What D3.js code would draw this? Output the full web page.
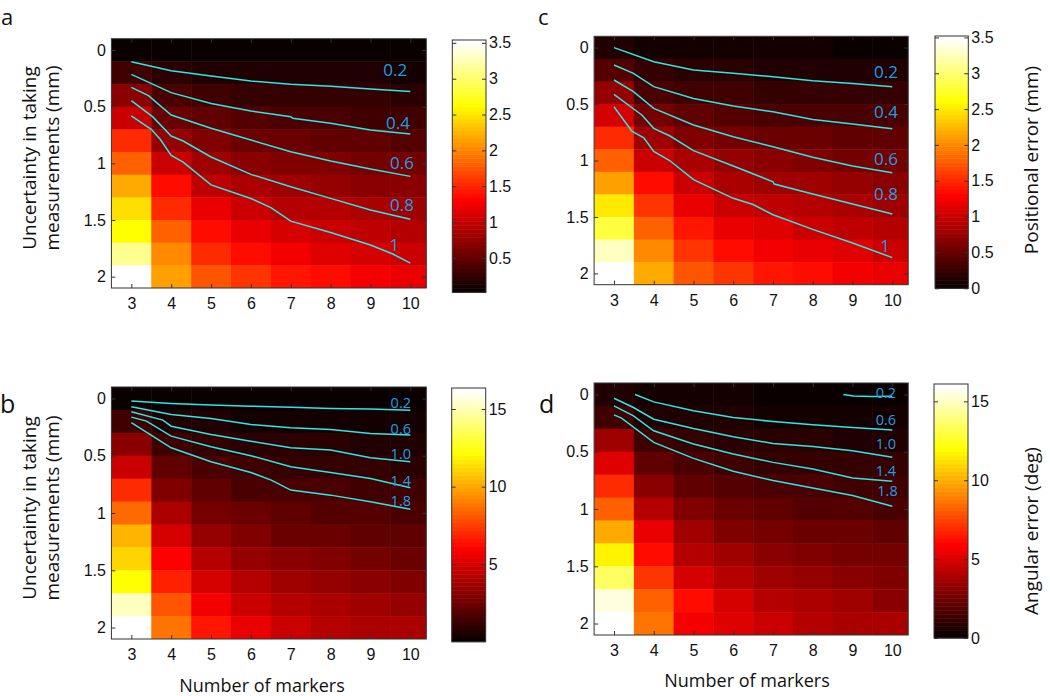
<!DOCTYPE html>
<html><head><meta charset="utf-8">
<script src="https://cdn.jsdelivr.net/npm/d3@7"></script>
<style>body{margin:0;background:#fff} svg{display:block}</style>
</head><body>
<svg id="chart" width="1050" height="696"></svg>
<script>
// ---------- data ----------
const markers = [3,4,5,6,7,8,9,10];
const uncertainty = [0,0.2,0.4,0.6,0.8,1.0,1.2,1.4,1.6,1.8,2.0];
const xTicks = [3,4,5,6,7,8,9,10];
const yTicks = [0,0.5,1,1.5,2];
const yTickLabels = ["0","0.5","1","1.5","2"];

// positional error (mm), rows = uncertainty, cols = markers
const posErrorA = [
 [0.03,0.02,0.02,0.02,0.02,0.02,0.02,0.02],
 [0.33,0.19,0.17,0.16,0.14,0.13,0.13,0.12],
 [0.72,0.36,0.32,0.29,0.26,0.25,0.24,0.23],
 [1.06,0.57,0.48,0.42,0.38,0.37,0.35,0.33],
 [1.51,0.77,0.65,0.57,0.53,0.50,0.48,0.45],
 [1.80,1.01,0.82,0.72,0.67,0.63,0.60,0.58],
 [2.17,1.34,0.97,0.86,0.81,0.77,0.72,0.70],
 [2.46,1.55,1.20,1.05,0.95,0.90,0.85,0.82],
 [2.64,1.80,1.38,1.22,1.11,1.03,0.97,0.93],
 [3.10,2.04,1.55,1.38,1.25,1.16,1.10,1.05],
 [3.54,2.15,1.73,1.59,1.44,1.39,1.26,1.18]
];
const posErrorC = [
 [0.16,0.08,0.07,0.07,0.06,0.06,0.05,0.03],
 [0.41,0.22,0.18,0.17,0.15,0.14,0.14,0.12],
 [0.72,0.38,0.31,0.28,0.26,0.24,0.23,0.23],
 [1.08,0.58,0.47,0.42,0.38,0.36,0.35,0.34],
 [1.49,0.80,0.64,0.56,0.52,0.50,0.48,0.46],
 [1.80,1.04,0.83,0.72,0.66,0.63,0.60,0.58],
 [2.11,1.32,0.99,0.87,0.80,0.77,0.72,0.70],
 [2.50,1.55,1.16,1.04,0.95,0.89,0.85,0.82],
 [2.81,1.78,1.38,1.20,1.10,1.04,0.97,0.93],
 [3.25,2.00,1.57,1.36,1.24,1.16,1.10,1.04],
 [3.50,2.15,1.73,1.57,1.42,1.36,1.24,1.16]
];
// angular error (deg)
const angErrorB = [
 [0.12,0.10,0.09,0.08,0.08,0.07,0.07,0.06],
 [1.41,0.69,0.55,0.50,0.45,0.45,0.40,0.40],
 [3.09,1.36,1.08,0.93,0.84,0.79,0.74,0.69],
 [4.72,2.08,1.60,1.36,1.22,1.12,1.08,1.03],
 [7.10,2.90,2.13,1.80,1.65,1.56,1.46,1.41],
 [8.54,3.86,2.71,2.32,2.08,1.94,1.84,1.75],
 [10.27,5.01,3.38,2.85,2.56,2.37,2.28,2.13],
 [11.23,6.14,4.24,3.48,3.09,2.85,2.66,2.56],
 [12.10,6.81,5.01,4.15,3.67,3.38,3.19,3.00],
 [15.09,8.06,5.78,4.82,4.15,3.86,3.62,3.38],
 [16.35,8.83,6.52,5.40,4.82,4.34,4.05,3.86]
];
const angErrorD = [
 [0.65,0.35,0.30,0.26,0.24,0.22,0.19,0.18],
 [1.42,0.71,0.57,0.52,0.47,0.43,0.43,0.38],
 [3.65,1.37,1.04,0.90,0.81,0.76,0.71,0.66],
 [5.12,2.23,1.61,1.37,1.23,1.14,1.09,1.04],
 [6.85,3.22,2.18,1.80,1.66,1.52,1.47,1.37],
 [8.22,4.17,2.84,2.32,2.08,1.94,1.85,1.75],
 [9.83,5.30,3.65,2.94,2.65,2.46,2.32,2.18],
 [11.63,6.23,4.26,3.55,3.17,2.94,2.75,2.56],
 [13.34,7.08,5.02,4.17,3.69,3.32,3.13,2.89],
 [15.48,8.12,6.13,4.83,4.17,3.79,3.55,3.27],
 [15.90,8.69,5.68,5.12,4.64,4.26,3.98,3.79]
];

const colorDomainA = [0.02,3.54];
const colorDomainC = [0,3.52];
const colorDomainB = [0.02,16.35];
const colorDomainD = [0,16.1];
const cbTicksA = [0.5,1,1.5,2,2.5,3,3.5];
const cbTicksC = [0,0.5,1,1.5,2,2.5,3,3.5];
const cbTicksB = [5,10,15];
const cbTicksD = [0,5,10,15];

// contour lines [markers, uncertainty]
const contourLevelsPos = ["0.2","0.4","0.6","0.8","1"];
const contourLevelsAng = ["0.2","0.6","1.0","1.4","1.8"];
const contoursA = [
 [[3,.103],[4,.182],[5,.229],[6,.274],[7,.303],[8,.32],[9,.344],[10,.365]],
 [[3,.215],[4,.376],[5,.471],[6,.538],[7,.588],[7.05,.603],[8,.647],[9,.706],[10,.741]],
 [[3,.329],[3.43,.403],[4,.574],[5,.691],[6,.794],[7,.897],[8,.979],[9,1.05],[10,1.115]],
 [[3,.447],[3.54,.59],[4,.759],[4.3,.803],[5,.944],[6,1.097],[7,1.206],[8,1.309],[9,1.412],[10,1.494]],
 [[3,.58],[3.5,.70],[3.73,.79],[4,.93],[4.3,.99],[5,1.19],[6,1.31],[6.5,1.39],[7,1.51],[8,1.61],[9,1.72],[9.56,1.8],[10,1.88]]
];
const contoursC = [
 [[3,0],[4,.125],[5,.199],[6,.228],[7,.258],[8,.293],[9,.317],[10,.346]],
 [[3,.154],[3.49,.228],[4,.346],[5,.45],[6,.518],[7,.568],[8,.636],[9,.677],[10,.718]],
 [[3,.287],[3.49,.39],[4,.538],[5,.686],[6,.789],[7,.878],[8,.972],[9,1.049],[10,1.108]],
 [[3,.414],[3.7,.597],[4,.715],[4.41,.783],[5,.913],[6,1.049],[7,1.188],[7.03,1.208],[8,1.297],[9,1.385],[10,1.474]],
 [[3,.524],[3.45,.74],[3.75,.80],[4,.92],[4.4,1.0],[5,1.17],[6,1.335],[6.5,1.39],[7,1.48],[8,1.61],[9,1.73],[10,1.86]]
];
const contoursB = [
 [[3,.023],[4,.044],[5,.058],[6,.067],[7,.076],[8,.087],[9,.093],[10,.102]],
 [[3,.073],[4,.14],[5,.175],[6,.227],[7,.256],[8,.271],[9,.306],[10,.32]],
 [[3,.116],[3.79,.189],[4,.242],[5,.314],[6,.373],[7,.431],[8,.451],[9,.518],[10,.553]],
 [[3,.163],[3.38,.198],[4,.329],[5,.422],[6,.5],[7,.597],[8,.646],[9,.699],[10,.78]],
 [[3,.21],[4,.431],[5,.553],[6,.646],[6.51,.713],[7,.80],[8,.844],[9,.902],[10,.967]]
];
const contoursD = [
 [[8.77,0],[9.02,.013],[9.5,.018],[10,.015]],
 [[3.53,0],[4,.065],[5,.143],[6,.201],[7,.236],[8,.265],[9,.288],[10,.311]],
 [[3,.033],[3.49,.114],[4,.216],[5,.297],[6,.369],[7,.428],[8,.454],[9,.491],[10,.549]],
 [[3,.1],[3.49,.187],[4,.317],[5,.433],[6,.52],[7,.593],[8,.651],[9,.729],[10,.758]],
 [[3,.178],[3.19,.207],[4,.419],[5,.558],[6,.671],[7,.752],[8,.816],[9,.883],[10,.976]]
];
// contour label anchors [markers, uncertainty]
const labelPosA = [[9.62,.176],[9.69,.638],[9.79,.994],[9.79,1.362],[9.6,1.72]];
const labelPosC = [[9.84,.213],[9.84,.568],[9.84,.98],[9.84,1.29],[9.82,1.75]];
const labelPosB = [[9.76,.033],[9.76,.262],[9.76,.48],[9.76,.713],[9.76,.888]];
const labelPosD = [[9.84,-.017],[9.84,.216],[9.84,.427],[9.84,.66],[9.88,.84]];

// ---------- drawing ----------
function hot64(t){
  const n=64; let i=Math.floor(t*n); if(i<0)i=0; if(i>n-1)i=n-1;
  const k=i+1;
  const r=Math.min(1,k/24), g=Math.max(0,Math.min(1,(k-24)/24)), b=Math.max(0,Math.min(1,(k-48)/16));
  return d3.rgb(r*255,g*255,b*255).toString();
}

const svg = d3.select("#chart");
const tickFont = "'Liberation Sans', Arial, sans-serif";
const labelFont = "'Open Sans', 'Noto Sans', sans-serif";
const frameColor = "#333";

const panels = [
 {id:"a", grid:posErrorA, dom:colorDomainA, cbt:cbTicksA, cont:contoursA, lev:contourLevelsPos, lp:labelPosA, ls:17,
  box:[111.4,426.3,38.7,288], cb:[452.3,486,40,292.3]},
 {id:"c", grid:posErrorC, dom:colorDomainC, cbt:cbTicksC, cont:contoursC, lev:contourLevelsPos, lp:labelPosC, ls:17,
  box:[594.1,908.2,36.3,284.7], cb:[935,968.3,36,288.3]},
 {id:"b", grid:angErrorB, dom:colorDomainB, cbt:cbTicksB, cont:contoursB, lev:contourLevelsAng, lp:labelPosB, ls:14.5,
  box:[111.4,426.3,387,639], cb:[451.7,485.7,388,641.7]},
 {id:"d", grid:angErrorD, dom:colorDomainD, cbt:cbTicksD, cont:contoursD, lev:contourLevelsAng, lp:labelPosD, ls:14.5,
  box:[594.1,908.2,383,635], cb:[934,968,384,638]}
];

panels.forEach(p=>{
  const [x0,x1,y0,y1]=p.box;
  const x=d3.scaleLinear().domain([2.5,10.4]).range([x0,x1]);
  const y=d3.scaleLinear().domain([-0.1,2.1]).range([y0,y1]);
  const cnorm=d3.scaleLinear().domain(p.dom).range([0,1]);
  const g=svg.append("g");
  const clipId="clip"+p.id;
  svg.append("clipPath").attr("id",clipId).append("rect")
     .attr("x",x0).attr("y",y0).attr("width",x1-x0).attr("height",y1-y0);
  const cells=[];
  uncertainty.forEach((u,i)=>markers.forEach((m,j)=>cells.push({m,u,v:p.grid[i][j]})));
  g.append("g").attr("clip-path",`url(#${clipId})`).selectAll("rect").data(cells).join("rect")
    .attr("x",d=>x(d.m-0.5)).attr("y",d=>y(d.u-0.1))
    .attr("width",d=>x(d.m+0.5)-x(d.m-0.5)+0.5).attr("height",d=>y(d.u+0.1)-y(d.u-0.1)+0.5)
    .attr("fill",d=>hot64(cnorm(d.v)));
  // contours
  const line=d3.line().x(d=>x(d[0])).y(d=>y(d[1]));
  g.append("g").attr("clip-path",`url(#${clipId})`).selectAll("path").data(p.cont).join("path")
    .attr("d",line).attr("fill","none").attr("stroke","#2de6e6").attr("stroke-width",1.5);
  g.append("g").selectAll("text").data(p.lp).join("text")
    .attr("x",d=>x(d[0])).attr("y",d=>y(d[1])).attr("text-anchor","middle").attr("dominant-baseline","central")
    .attr("font-family",labelFont).attr("font-size",p.ls).attr("fill","#1c9fe8")
    .text((d,i)=>p.lev[i]);
  // axes
  const ax=(sel)=>{sel.selectAll(".domain").remove(); sel.selectAll("line").attr("stroke",frameColor);
                   sel.selectAll("text").attr("font-family",tickFont).attr("font-size",16).attr("fill","#111");};
  g.append("g").attr("transform",`translate(${x0},0)`)
    .call(d3.axisLeft(y).tickValues(yTicks).tickFormat((d,i)=>yTickLabels[i]).tickSize(-4).tickPadding(5.5)).call(ax);
  g.append("g").attr("transform",`translate(0,${y1})`)
    .call(d3.axisBottom(x).tickValues(xTicks).tickFormat(d3.format("d")).tickSize(-4).tickPadding(9.5)).call(ax);
  g.append("g").attr("transform",`translate(0,${y0})`)
    .call(d3.axisTop(x).tickValues(xTicks).tickFormat("").tickSize(-4)).call(ax);
  g.append("g").attr("transform",`translate(${x1},0)`)
    .call(d3.axisRight(y).tickValues(yTicks).tickFormat("").tickSize(-4)).call(ax);
  g.append("rect").attr("x",x0).attr("y",y0).attr("width",x1-x0).attr("height",y1-y0)
    .attr("fill","none").attr("stroke",frameColor).attr("stroke-width",1);
  // colorbar
  const [cx0,cx1,cy0,cy1]=p.cb;
  const cy=d3.scaleLinear().domain(p.dom).range([cy1,cy0]);
  const steps=d3.range(64);
  const lvl=i=>p.dom[0]+i/64*(p.dom[1]-p.dom[0]);
  const cbg=svg.append("g");
  cbg.selectAll("rect").data(steps).join("rect")
    .attr("x",cx0).attr("width",cx1-cx0)
    .attr("y",i=>cy(lvl(i+1))).attr("height",i=>cy(lvl(i))-cy(lvl(i+1))+0.5)
    .attr("fill",i=>hot64((i+0.5)/64));
  cbg.append("g").attr("transform",`translate(${cx1},0)`)
    .call(d3.axisRight(cy).tickValues(p.cbt).tickFormat(d3.format("")).tickSize(-4).tickPadding(3)).call(ax);
  cbg.append("g").attr("transform",`translate(${cx0},0)`)
    .call(d3.axisLeft(cy).tickValues(p.cbt).tickFormat("").tickSize(-4)).call(ax);
  cbg.append("rect").attr("x",cx0).attr("y",cy0).attr("width",cx1-cx0).attr("height",cy1-cy0)
    .attr("fill","none").attr("stroke",frameColor).attr("stroke-width",1);
});

// titles and panel letters
const T=(txt,xx,yy,opts={})=>{
  const t=svg.append("text").attr("font-family",labelFont).attr("font-size",opts.size||18).attr("fill","#111")
    .attr("text-anchor",opts.anchor||"middle").text(txt);
  if(opts.rot) t.attr("transform",`translate(${xx},${yy}) rotate(-90)`); else t.attr("x",xx).attr("y",yy);
  return t;
};
T("a",1,25,{size:22,anchor:"start"});
T("c",538,25,{size:22,anchor:"start"});
T("b",0,413,{size:25,anchor:"start"});
T("d",539,413,{size:25,anchor:"start"});
T("Uncertainty in taking",35.5,158,{rot:true,size:19});
T("measurements (mm)",58.5,158,{rot:true,size:19});
T("Uncertainty in taking",35.5,508,{rot:true,size:19});
T("measurements (mm)",58.5,508,{rot:true,size:19});
T("Number of markers",262,692);
T("Number of markers",747,687);
T("Positional error (mm)",1038,160,{rot:true,size:19});
T("Angular error (deg)",1038,531,{rot:true,size:19});
</script>
</body></html>
